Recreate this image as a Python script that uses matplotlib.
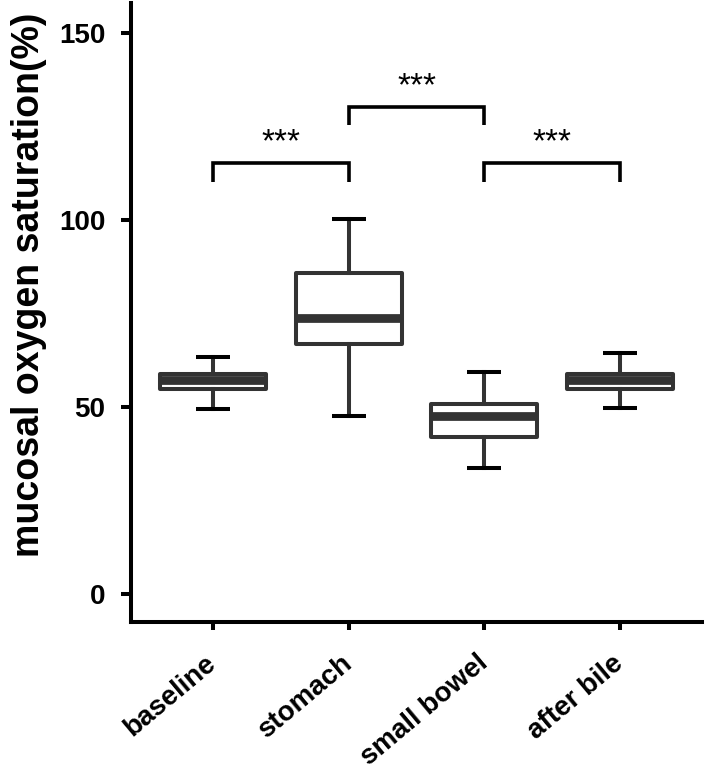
import matplotlib
matplotlib.use("Agg")
import matplotlib.pyplot as plt
from matplotlib.transforms import ScaledTranslation

plt.rcParams['font.family'] = ['Liberation Sans', 'DejaVu Sans']

categories = ["baseline", "stomach", "small bowel", "after bile"]
whislo = [49.4, 47.5, 33.6, 49.6]
q1 = [54.7, 66.9, 41.8, 54.7]
med = [57.3, 73.7, 47.6, 57.3]
q3 = [58.7, 85.8, 50.8, 58.7]
whishi = [63.3, 100.3, 59.3, 64.3]

# significance brackets: (left index, right index, bar height, drop height)
brackets = [(0, 1, 115.4, 110.3), (1, 2, 130.3, 125.4), (2, 3, 115.4, 110.3)]
sig_labels = ["***", "***", "***"]
yticks = [0, 50, 100, 150]

fig = plt.figure(figsize=(7.06, 7.74), dpi=100)
ax = fig.add_axes([131/706, 1-622/774, (702-131)/706, (622-3)/774])

stats = []
for i, c in enumerate(categories):
    stats.append(dict(label=c, whislo=whislo[i], q1=q1[i], med=med[i],
                      q3=q3[i], whishi=whishi[i], fliers=[]))

pos = list(range(len(categories)))
dark = '#333333'
ax.bxp(stats, positions=pos, widths=0.78, showfliers=False, patch_artist=True,
       boxprops=dict(facecolor='white', edgecolor=dark, linewidth=2.9, joinstyle='round'),
       medianprops=dict(color=dark, linewidth=6.3, solid_capstyle='butt'),
       whiskerprops=dict(color=dark, linewidth=2.9),
       capprops=dict(color='black', linewidth=2.9, solid_capstyle='butt'),
       capwidths=0.25)

for (a, b, h, d), lab in zip(brackets, sig_labels):
    ax.plot([a, a, b, b], [d, h, h, d], color='black', linewidth=2.6,
            solid_joinstyle='miter', solid_capstyle='butt', clip_on=False)
    ax.text((a + b) / 2, h + 3.0, lab, ha='center', va='baseline', fontsize=24,
            color='black')

ax.set_xlim(-0.6, 3.6)
ax.set_ylim(-7.6, 158.1)
ax.set_yticks(yticks)
ax.set_yticklabels([str(t) for t in yticks], fontsize=20, fontweight='bold')
ax.set_xticks(pos)
ax.set_xticklabels(categories, fontsize=20, fontweight='bold', rotation=40,
                   ha='right', va='center', rotation_mode='anchor')
shift = ScaledTranslation(-4/100, 0, fig.dpi_scale_trans)
for lbl in ax.get_xticklabels():
    lbl.set_transform(lbl.get_transform() + shift)
for s in ['top', 'right']:
    ax.spines[s].set_visible(False)
for s in ['left', 'bottom']:
    ax.spines[s].set_linewidth(2.9)
    ax.spines[s].set_color('black')
ax.tick_params(axis='y', length=7.5, width=2.9, pad=11, colors='black')
ax.tick_params(axis='x', length=6, width=2.9, pad=21.5, colors='black')
fig.text(29/706, 1-285/774, "mucosal oxygen saturation(%)", rotation=90,
         ha='center', va='center', fontsize=27, fontweight='bold')

fig.savefig("out.png", dpi=100)
